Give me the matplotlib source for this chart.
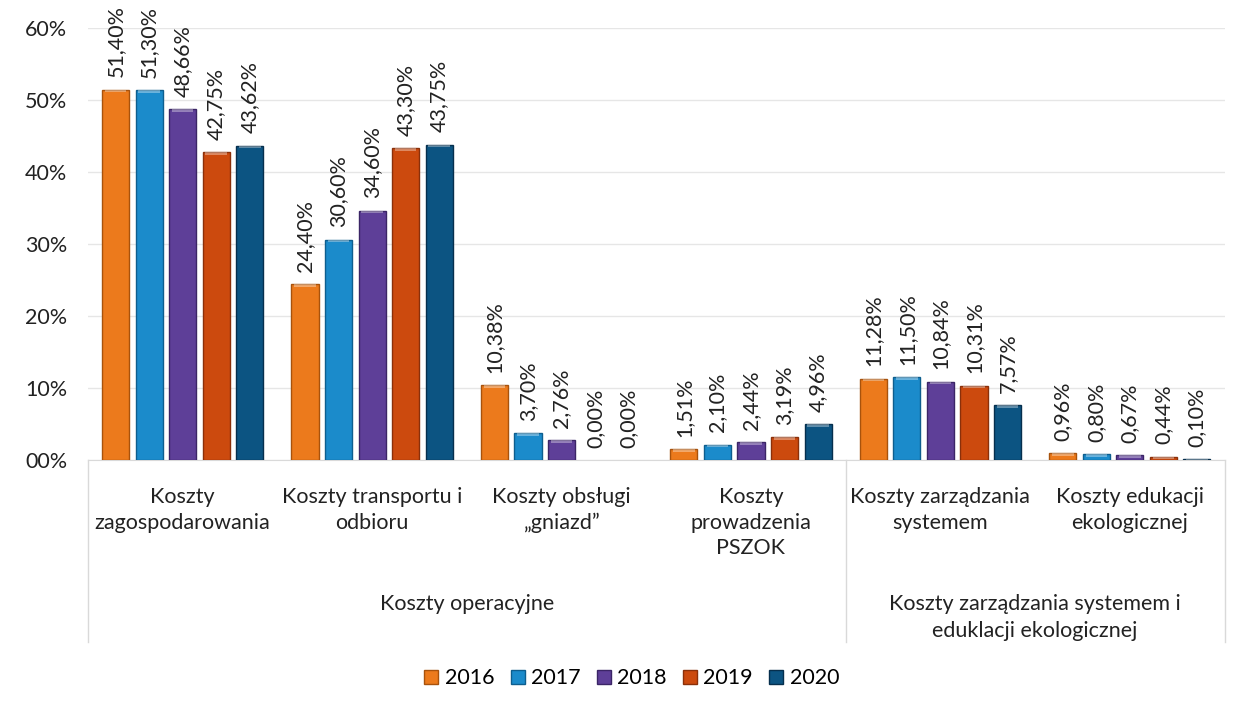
import matplotlib

matplotlib.use("Agg")

import matplotlib.pyplot as plt
import matplotlib.transforms as mtransforms
import numpy as np

plt.rcParams["font.family"] = ["Lato", "DejaVu Sans"]

years = ["2016", "2017", "2018", "2019", "2020"]
categories = [
    "Koszty\nzagospodarowania",
    "Koszty transportu i\nodbioru",
    "Koszty obsługi\n„gniazd”",
    "Koszty\nprowadzenia\nPSZOK",
    "Koszty zarządzania\nsystemem",
    "Koszty edukacji\nekologicznej",
]
groups = ["Koszty operacyjne", "Koszty zarządzania systemem i\neduklacji ekologicznej"]
group_spans = [(0, 3), (4, 5)]

v2016 = [51.40, 24.40, 10.38, 1.51, 11.28, 0.96]
v2017 = [51.30, 30.60, 3.70, 2.10, 11.50, 0.80]
v2018 = [48.66, 34.60, 2.76, 2.44, 10.84, 0.67]
v2019 = [42.75, 43.30, 0.00, 3.19, 10.31, 0.44]
v2020 = [43.62, 43.75, 0.00, 4.96, 7.57, 0.10]
series = [v2016, v2017, v2018, v2019, v2020]

colors = ["#EC7A1C", "#1B8BCB", "#5E3F98", "#CC4A0E", "#0C5482"]
edges = ["#A8520C", "#0E5E8E", "#3B2566", "#8A300A", "#062F4D"]

fs = 15.5

fig = plt.figure(figsize=(12.56, 7.11), dpi=100)
ax = fig.add_axes([0.070, 0.353, 0.905, 0.608])

x = np.arange(len(categories))
pitch = 0.177
width = 0.143
for i, (vals, c, ec, yr) in enumerate(zip(series, colors, edges, years)):
    pos = x + (i - 2) * pitch
    vals = np.array(vals)
    shown = vals > 0
    ax.bar(pos[shown], vals[shown], width=width, color=c, edgecolor=ec, linewidth=1.0,
           label=yr, zorder=3)
    # light cap to mimic the bevelled bars
    cap = np.minimum(vals[shown], 0.35)
    ax.bar(pos[shown], cap, bottom=vals[shown] - cap, width=width * 0.8, color="white",
           alpha=0.35, linewidth=0, zorder=4)
    for p, v in zip(pos, vals):
        ax.annotate(f"{v:.2f}%".replace(".", ","), (p, v), xytext=(0, 9),
                    textcoords="offset points", rotation=90, ha="center", va="bottom",
                    fontsize=fs, color="#222222")

ax.set_xlim(-0.5, len(categories) - 0.5)
ax.set_ylim(0, 60)
ax.set_yticks(np.arange(0, 61, 10))
ax.set_yticklabels([f"{t:02d}%" for t in range(0, 61, 10)], fontsize=fs, color="#222222")
ax.tick_params(axis="y", length=0, pad=15)
ax.set_xticks([])
ax.grid(axis="y", color="#E6E6E6", linewidth=1.0, zorder=0)
for s in ["top", "right", "left"]:
    ax.spines[s].set_visible(False)
ax.spines["bottom"].set_color("#D9D9D9")

trans = mtransforms.blended_transform_factory(ax.transData, ax.transAxes)
for xi, lab in zip(x, categories):
    ax.text(xi, -0.063, lab, transform=trans, ha="center", va="top", fontsize=fs,
            color="#222222", linespacing=1.35)
for (a, b), lab in zip(group_spans, groups):
    ax.text((a + b) / 2, -0.31, lab, transform=trans, ha="center", va="top", fontsize=fs,
            color="#222222", linespacing=1.45)
for sx in [-0.5, 3.5, 5.5]:
    ax.plot([sx, sx], [0, -0.42], transform=trans, color="#D9D9D9", linewidth=1.0,
            clip_on=False)

fig.legend(loc="center", bbox_to_anchor=(0.503, 0.046), ncol=5, frameon=False, fontsize=fs,
           handlelength=0.65, handleheight=0.65, handletextpad=0.3, columnspacing=0.75)

fig.savefig("out.png", dpi=100)
